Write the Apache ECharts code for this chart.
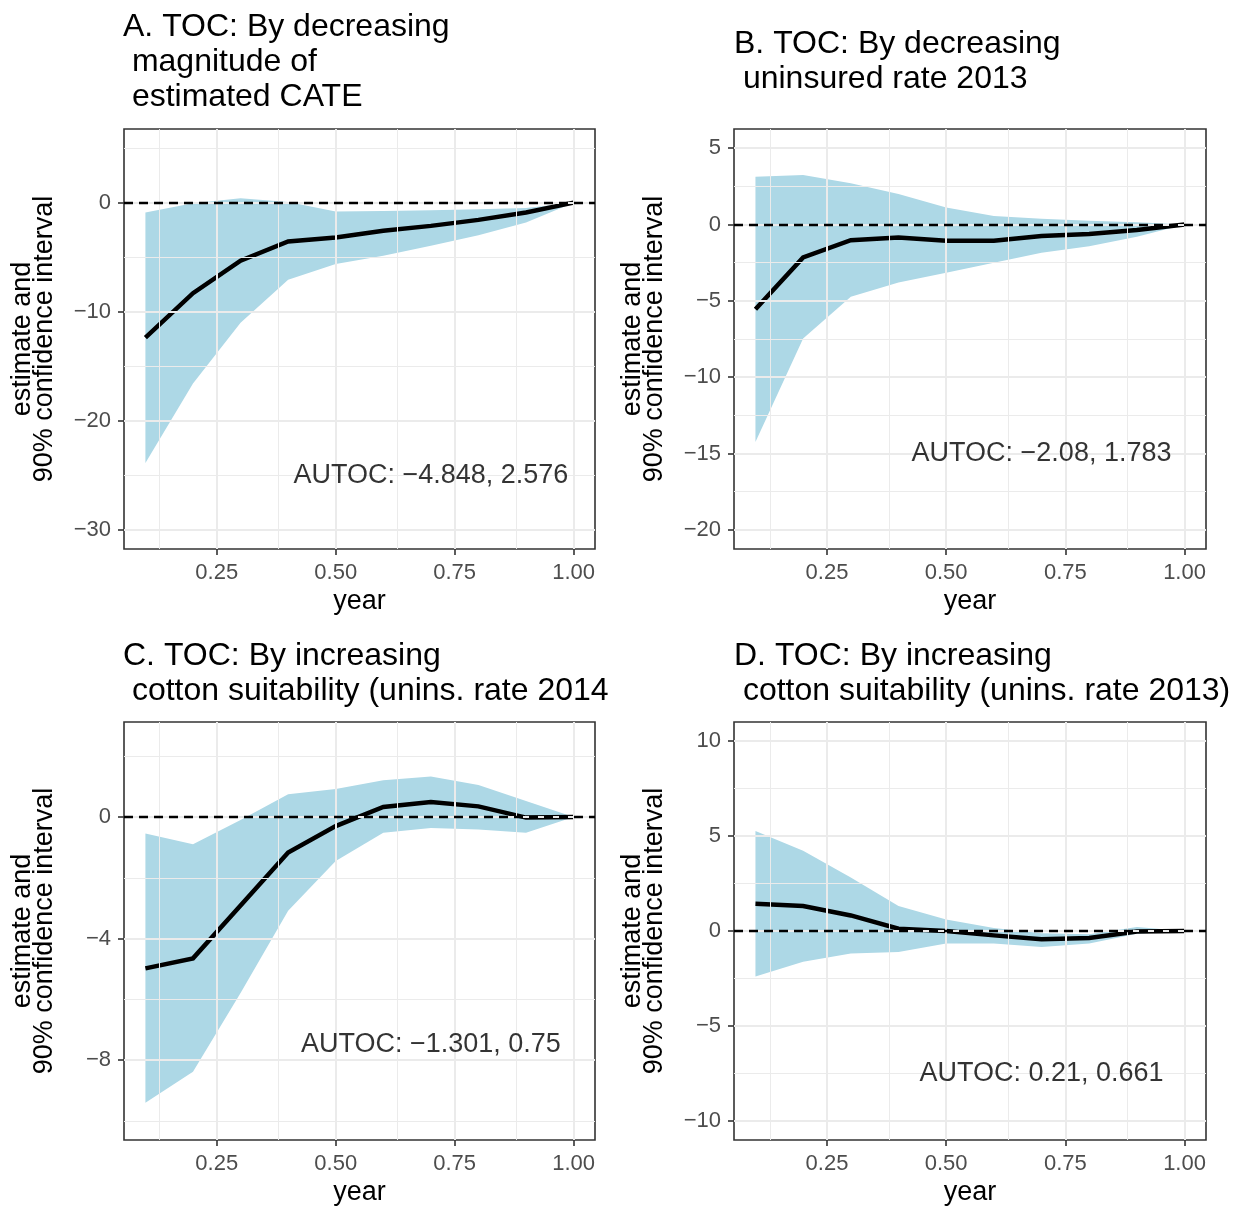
<!DOCTYPE html>
<html>
<head>
<meta charset="utf-8">
<script src="https://cdn.jsdelivr.net/npm/echarts@6/dist/echarts.min.js"></script>
<style>
html,body{margin:0;padding:0;background:#fff;}
#chart{width:1235px;height:1207px;}
</style>
</head>
<body>
<div id="chart"></div>
<script>
// ---------- data ----------
const xs = [0.1, 0.2, 0.3, 0.4, 0.5, 0.6, 0.7, 0.8, 0.9, 1.0];

const A_est = [-12.37, -8.30, -5.32, -3.56, -3.19, -2.58, -2.13, -1.58, -0.91, 0];
const A_up  = [-0.91, -0.05, 0.40, 0.06, -0.82, -0.76, -0.70, -0.60, -0.50, 0];
const A_lo  = [-23.86, -16.57, -11.0, -7.08, -5.62, -4.86, -3.95, -2.98, -1.82, 0];

const B_est = [-5.55, -2.16, -1.03, -0.85, -1.07, -1.07, -0.76, -0.63, -0.37, 0];
const B_up  = [3.12, 3.23, 2.69, 1.99, 1.11, 0.55, 0.37, 0.24, 0.15, 0];
const B_lo  = [-14.24, -7.47, -4.74, -3.80, -3.17, -2.51, -1.86, -1.42, -0.81, 0];

const C_est = [-4.98, -4.65, -2.91, -1.17, -0.30, 0.33, 0.49, 0.35, -0.02, 0];
const C_up  = [-0.54, -0.90, -0.10, 0.75, 0.92, 1.21, 1.33, 1.05, 0.53, 0];
const C_lo  = [-9.40, -8.38, -5.79, -3.08, -1.45, -0.52, -0.36, -0.41, -0.52, 0];

const D_est = [1.43, 1.31, 0.82, 0.12, 0.0, -0.23, -0.44, -0.37, -0.03, 0];
const D_up  = [5.26, 4.22, 2.82, 1.31, 0.61, 0.16, -0.12, -0.17, 0.21, 0];
const D_lo  = [-2.40, -1.62, -1.18, -1.10, -0.66, -0.66, -0.84, -0.66, -0.14, 0];

const xMajor = [0.25, 0.5, 0.75, 1.0];
const xMinor = [0.125, 0.375, 0.625, 0.875];

const A_yMajor = [-30, -20, -10, 0];
const A_yMinor = [-25, -15, -5, 5];
const B_yMajor = [-20, -15, -10, -5, 0, 5];
const B_yMinor = [-17.5, -12.5, -7.5, -2.5, 2.5];
const C_yMajor = [-8, -4, 0];
const C_yMinor = [-10, -6, -2, 2];
const D_yMajor = [-10, -5, 0, 5, 10];
const D_yMinor = [-7.5, -2.5, 2.5, 7.5];

const titles = [
  'A. TOC: By decreasing\n magnitude of\n estimated CATE',
  'B. TOC: By decreasing\n uninsured rate 2013',
  'C. TOC: By increasing\n cotton suitability (unins. rate 2014',
  'D. TOC: By increasing\n cotton suitability (unins. rate 2013)'
];
const autocTexts = ['AUTOC: \u22124.848, 2.576', 'AUTOC: \u22122.08, 1.783', 'AUTOC: \u22121.301, 0.75', 'AUTOC: 0.21, 0.661'];
const autocX = [0.7, 0.7, 0.7, 0.7];
const autocY = [-25, -15, -7.5, -7.5];
const xTitle = 'year';
const yTitle = 'estimate and\n90% confidence interval';

// ---------- layout ----------
const FONT = '"Liberation Sans", Arial, Helvetica, sans-serif';
const panels = [
  {est: A_est, up: A_up, lo: A_lo, yMajor: A_yMajor, yMinor: A_yMinor, ymin: -31.75, ymax: 6.75,
   grid: {left: 124, top: 129, width: 471, height: 420}, titlePos: {left: 123, top: 10}},
  {est: B_est, up: B_up, lo: B_lo, yMajor: B_yMajor, yMinor: B_yMinor, ymin: -21.25, ymax: 6.25,
   grid: {left: 734, top: 129, width: 472, height: 420}, titlePos: {left: 734, top: 27}},
  {est: C_est, up: C_up, lo: C_lo, yMajor: C_yMajor, yMinor: C_yMinor, ymin: -10.625, ymax: 3.125,
   grid: {left: 124, top: 722, width: 471, height: 420}, titlePos: {left: 123, top: 639}},
  {est: D_est, up: D_up, lo: D_lo, yMajor: D_yMajor, yMinor: D_yMinor, ymin: -11, ymax: 11,
   grid: {left: 734, top: 722, width: 472, height: 420}, titlePos: {left: 734, top: 639}}
];

function minusFmt(v) {
  return v < 0 ? '\u2212' + Math.abs(v) : String(v);
}

function bandRender(params, api) {
  if (params.dataIndexInside !== 0) return;
  const n = params.dataInsideLength;
  const top = [], bot = [];
  for (let i = 0; i < n; i++) {
    top.push(api.coord([api.value(0, i), api.value(2, i)]));
    bot.push(api.coord([api.value(0, i), api.value(1, i)]));
  }
  return {
    type: 'polygon',
    shape: {points: top.concat(bot.reverse())},
    style: {fill: '#ADD8E6'}
  };
}

const grids = [], xAxes = [], yAxes = [], series = [], titleOpts = [];

panels.forEach((p, k) => {
  grids.push(Object.assign({show: true, borderColor: '#333333', borderWidth: 1.6, backgroundColor: '#fff'}, p.grid));
  xAxes.push({
    type: 'value', gridIndex: k, min: 0.055, max: 1.045,
    axisLine: {show: false, onZero: false},
    axisTick: {show: true, customValues: xMajor, length: 6, lineStyle: {color: '#333333', width: 1.6}},
    axisLabel: {customValues: xMajor, formatter: v => v.toFixed(2), color: '#4D4D4D', fontSize: 22, margin: 13, fontFamily: FONT},
    splitLine: {show: false},
    name: xTitle, nameLocation: 'middle', nameGap: 39,
    nameTextStyle: {fontSize: 27, color: '#000', fontFamily: FONT}
  });
  yAxes.push({
    type: 'value', gridIndex: k, min: p.ymin, max: p.ymax,
    axisLine: {show: false, onZero: false},
    axisTick: {show: true, customValues: p.yMajor, length: 6, lineStyle: {color: '#333333', width: 1.6}},
    axisLabel: {customValues: p.yMajor, formatter: minusFmt, color: '#4D4D4D', fontSize: 22, margin: 13, fontFamily: FONT},
    splitLine: {show: false},
    name: yTitle, nameLocation: 'middle', nameGap: 68, nameRotate: 90,
    nameTextStyle: {fontSize: 27, lineHeight: 22, color: '#000', fontFamily: FONT, align: 'center'}
  });

  const gridLines = [];
  xMinor.forEach(v => gridLines.push({xAxis: v, lineStyle: {color: '#EBEBEB', width: 1, type: 'solid'}}));
  p.yMinor.forEach(v => gridLines.push({yAxis: v, lineStyle: {color: '#EBEBEB', width: 1, type: 'solid'}}));
  xMajor.forEach(v => gridLines.push({xAxis: v, lineStyle: {color: '#EBEBEB', width: 2, type: 'solid'}}));
  p.yMajor.forEach(v => gridLines.push({yAxis: v, lineStyle: {color: '#EBEBEB', width: 2, type: 'solid'}}));

  const pairs = xs.map((x, i) => [x, p.est[i]]);

  // grid lines
  series.push({
    type: 'line', xAxisIndex: k, yAxisIndex: k, data: pairs, symbol: 'none', silent: true, z: 1,
    lineStyle: {opacity: 0},
    markLine: {silent: true, symbol: ['none', 'none'], label: {show: false}, animation: false, data: gridLines}
  });
  // ribbon
  series.push({
    type: 'custom', xAxisIndex: k, yAxisIndex: k, z: 2, silent: true, clip: true,
    data: xs.map((x, i) => [x, p.lo[i], p.up[i]]),
    encode: {x: 0, y: [1, 2]},
    renderItem: bandRender
  });
  // dashed zero line
  series.push({
    type: 'line', xAxisIndex: k, yAxisIndex: k, data: pairs, symbol: 'none', silent: true, z: 3,
    lineStyle: {opacity: 0},
    markLine: {silent: true, symbol: ['none', 'none'], label: {show: false}, animation: false,
      data: [{yAxis: 0, lineStyle: {color: '#000', width: 2.4, type: [9, 6]}}]}
  });
  // estimate line
  series.push({
    type: 'line', xAxisIndex: k, yAxisIndex: k, data: pairs, symbol: 'none', z: 4,
    lineStyle: {color: '#000', width: 4.5, cap: 'butt', join: 'miter'}
  });
  // AUTOC annotation
  series.push({
    type: 'scatter', xAxisIndex: k, yAxisIndex: k, z: 5, silent: true,
    data: [[autocX[k], autocY[k]]], symbolSize: 1, itemStyle: {color: 'rgba(0,0,0,0)'},
    label: {show: true, position: 'inside', formatter: autocTexts[k], color: '#000', fontSize: 27, fontFamily: FONT}
  });

  titleOpts.push({
    text: titles[k], left: p.titlePos.left, top: p.titlePos.top, padding: 0,
    textStyle: {fontSize: 32, lineHeight: 35, fontWeight: 'normal', color: '#000', fontFamily: FONT}
  });
});

const chart = echarts.init(document.getElementById('chart'), null, {renderer: 'canvas'});
chart.setOption({
  animation: false,
  backgroundColor: '#fff',
  textStyle: {fontFamily: FONT},
  title: titleOpts,
  grid: grids,
  xAxis: xAxes,
  yAxis: yAxes,
  series: series
});
</script>
</body>
</html>
